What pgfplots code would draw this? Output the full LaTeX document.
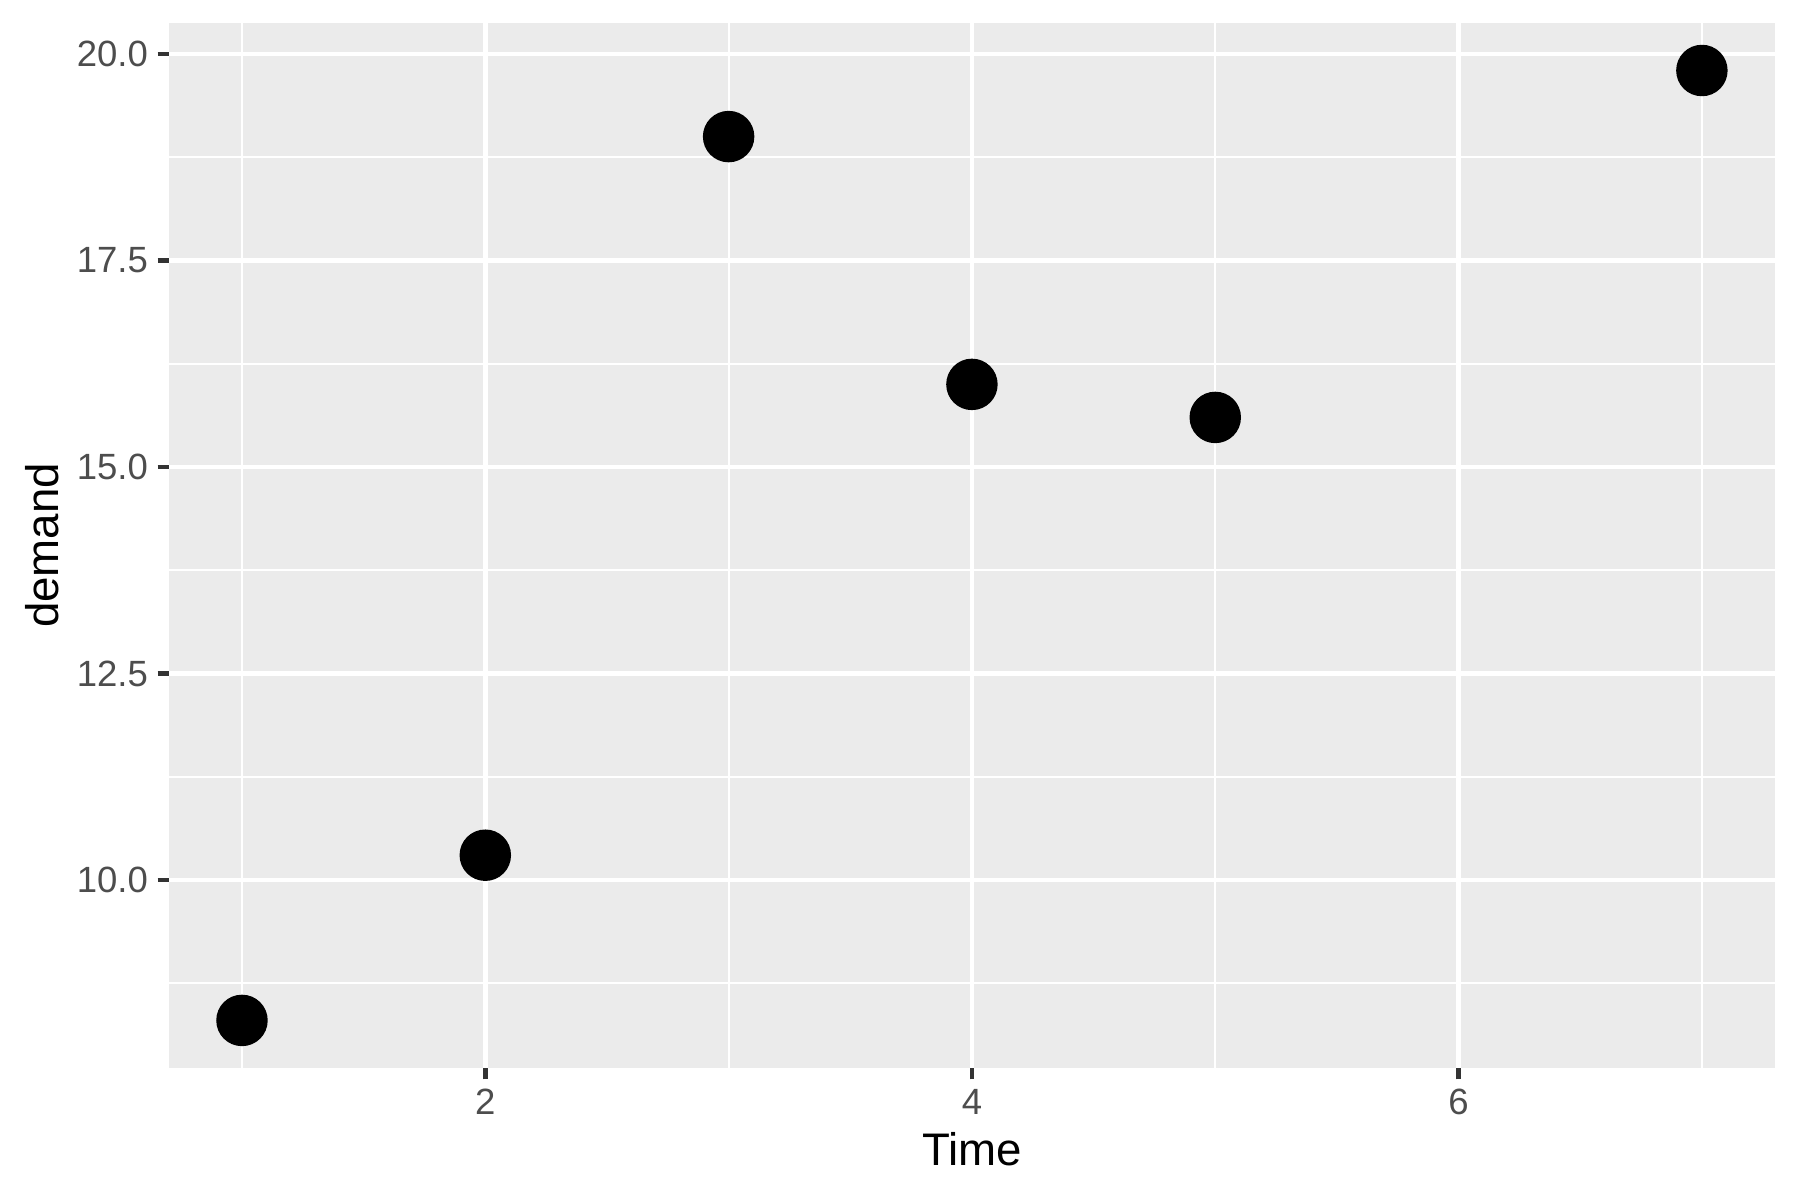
\documentclass[border=0pt]{standalone}
\usepackage{pgfplots}
\pgfplotsset{compat=1.18}
\usepackage{fontspec}
\setmainfont{Liberation Sans}
\definecolor{panelbg}{HTML}{EBEBEB}
\definecolor{ticklab}{HTML}{4D4D4D}
\definecolor{tickcol}{HTML}{333333}
\begin{document}
\begin{tikzpicture}
\begin{axis}[
	scale only axis,
	width=5.353in,
	height=3.483in,
	xmin=0.7, xmax=7.3,
	ymin=7.725, ymax=20.375,
	xtick={2,4,6},
	ytick={10,12.5,15,17.5,20},
	minor xtick={1,3,5,7},
	minor ytick={8.75,11.25,13.75,16.25,18.75},
	yticklabel style={/pgf/number format/fixed,/pgf/number format/fixed zerofill,/pgf/number format/precision=1},
	/pgf/number format/assume math mode=true,
	axis background/.style={fill=panelbg},
	axis line style={draw=none},
	grid=both,
	major grid style={white,line width=1.07pt},
	minor grid style={white,line width=0.53pt},
	tick align=outside,
	tick pos=left,
	major tick length=2.75pt,
	minor tick length=0pt,
	tick style={tickcol,line width=1.07pt},
	ticklabel style={font=\fontsize{8.8}{10}\selectfont,text=ticklab},
	xticklabel style={yshift=1.2pt},
	yticklabel style={xshift=1.2pt},
	xlabel={Time},
	ylabel={demand},
	label style={font=\fontsize{11}{13}\selectfont},
	xlabel style={yshift=2.6pt},
	ylabel style={yshift=-2.6pt},
]
\addplot[only marks, mark=*, mark size=6pt, black] coordinates {
	(1,8.3) (2,10.3) (3,19.0) (4,16.0) (5,15.6) (7,19.8)
};
\end{axis}
\pgfresetboundingbox
\path ([xshift=-0.5633in,yshift=-0.44in]current axis.south west) rectangle ([xshift=0.0837in,yshift=0.0767in]current axis.north east);
\end{tikzpicture}
\end{document}
